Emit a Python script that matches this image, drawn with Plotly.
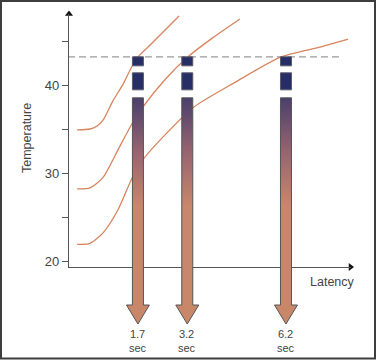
import plotly.graph_objects as go

# ---------------- data ----------------
curve_top_t = [-0.15, 0.24, 0.46, 0.64, 0.94, 1.25, 1.49, 1.73, 2.07, 2.95]
curve_top_T = [34.9, 35.0, 35.35, 36.0, 38.2, 40.1, 41.9, 43.3, 44.55, 47.85]

curve_mid_t = [-0.15, 0.24, 0.64, 1.09, 1.52, 1.85, 2.52, 3.22, 3.95, 4.80]
curve_mid_T = [28.2, 28.3, 29.5, 32.6, 35.6, 37.5, 40.6, 43.2, 45.3, 47.5]

curve_bot_t = [-0.15, 0.24, 0.64, 1.09, 1.52, 1.85, 2.67, 3.40, 4.65, 6.05, 7.23, 8.09]
curve_bot_T = [21.9, 22.0, 23.2, 25.8, 29.4, 31.5, 34.9, 37.5, 40.3, 43.2, 44.3, 45.2]

threshold_T = 43.2
latencies = [1.7, 3.2, 6.2]
latency_labels = ["1.7<br>sec", "3.2<br>sec", "6.2<br>sec"]
y_tick_vals = [20, 25, 30, 35, 40, 45]
y_tick_text = ["20", "", "30", "", "40", ""]

# ---------------- layout geometry (pixels) ----------------
W, H = 377, 360
PX_PER_SEC = 32.9
X0_PX = 82.0          # pixel of t = 0
PX_PER_DEG = 8.8
Y40_PX = 85.0         # pixel of T = 40


def t_of(px):
    return (px - X0_PX) / PX_PER_SEC


def T_of(py):
    return 40 + (Y40_PX - py) / PX_PER_DEG


thr_px = Y40_PX - (threshold_T - 40) * PX_PER_DEG

AX_LEFT, AX_RIGHT = 69, 350.5
AX_BOTTOM, AX_TOP = 267, 14

curve_color = "#d8845f"
text_color = "#444444"
axis_color = "#555555"
FONT = "Liberation Sans, Arial, sans-serif"

fig = go.Figure()

# dashed threshold line
fig.add_trace(go.Scatter(
    x=[t_of(68), t_of(340)], y=[threshold_T, threshold_T],
    mode="lines", line=dict(color="#9a9a9a", width=1.4, dash="7px,4px"),
    hoverinfo="skip", showlegend=False, xaxis="x", yaxis="y"))

for tt, TT in [(curve_top_t, curve_top_T), (curve_mid_t, curve_mid_T), (curve_bot_t, curve_bot_T)]:
    fig.add_trace(go.Scatter(
        x=tt, y=TT, mode="lines",
        line=dict(color=curve_color, width=1.3, shape="spline", smoothing=0.7),
        hoverinfo="skip", showlegend=False, xaxis="x", yaxis="y"))

# axis arrowheads
fig.add_trace(go.Scatter(
    x=[t_of(AX_LEFT)], y=[T_of(AX_TOP)], mode="markers",
    marker=dict(symbol="triangle-up", size=7, color="#111111"),
    cliponaxis=False, hoverinfo="skip", showlegend=False, xaxis="x", yaxis="y"))
fig.add_trace(go.Scatter(
    x=[t_of(AX_RIGHT)], y=[T_of(AX_BOTTOM)], mode="markers",
    marker=dict(symbol="triangle-right", size=7, color="#111111"),
    cliponaxis=False, hoverinfo="skip", showlegend=False, xaxis="x", yaxis="y"))

# arrows (on full-height axis y2)
hw = 5.5 / PX_PER_SEC
hh = 11.5 / PX_PER_SEC
blk1 = (thr_px, thr_px + 9)
blk2 = (thr_px + 16, thr_px + 33)
shaft_top_px = thr_px + 41
shaft_bot_px = 305
tip_px = 324

for L, lab in zip(latencies, latency_labels):
    bx, by = [], []
    for (p0, p1) in (blk1, blk2):
        bx += [L - hw, L + hw, L + hw, L - hw, L - hw, None]
        by += [T_of(p0), T_of(p0), T_of(p1), T_of(p1), T_of(p0), None]
    fig.add_trace(go.Scatter(
        x=bx, y=by, mode="lines", fill="toself", fillcolor="#272d65",
        line=dict(color="#5a5a6a", width=1),
        hoverinfo="skip", showlegend=False, xaxis="x", yaxis="y2"))

    ax_ = [L - hw, L + hw, L + hw, L + hh, L, L - hh, L - hw, L - hw]
    ay_ = [T_of(shaft_top_px), T_of(shaft_top_px), T_of(shaft_bot_px), T_of(shaft_bot_px),
           T_of(tip_px), T_of(shaft_bot_px), T_of(shaft_bot_px), T_of(shaft_top_px)]
    fig.add_trace(go.Scatter(
        x=ax_, y=ay_, mode="lines", fill="toself",
        fillgradient=dict(type="vertical",
                          start=T_of(shaft_bot_px), stop=T_of(shaft_top_px),
                          colorscale=[[0, "#c9876a"], [0.48, "#c8866a"], [0.74, "#976470"], [1, "#4a3f6c"]]),
        line=dict(color="#555555", width=1),
        hoverinfo="skip", showlegend=False, xaxis="x", yaxis="y2"))

    fig.add_annotation(x=L, y=T_of(tip_px), xref="x", yref="y2", text=lab,
                       showarrow=False, yanchor="top", xanchor="center", yshift=-2,
                       font=dict(family=FONT, size=11, color=text_color))

fig.add_annotation(x=27 / W, y=1 - 138 / H, xref="paper", yref="paper", text="Temperature",
                   showarrow=False, textangle=-90, xanchor="center", yanchor="middle",
                   font=dict(family=FONT, size=12.5, color=text_color))
fig.add_annotation(x=332 / W, y=1 - 282 / H, xref="paper", yref="paper", text="Latency",
                   showarrow=False, xanchor="center", yanchor="middle",
                   font=dict(family=FONT, size=12.5, color=text_color))

# border
fig.add_shape(type="rect", xref="paper", yref="paper",
              x0=1 / W, x1=375 / W, y0=1 - 358.5 / H, y1=1 - 1 / H,
              line=dict(color="#3d3d3d", width=2), fillcolor="rgba(0,0,0,0)", layer="below")

fig.update_layout(
    width=W, height=H, margin=dict(l=0, r=0, t=0, b=0),
    paper_bgcolor="white", plot_bgcolor="rgba(0,0,0,0)",
    template="none", showlegend=False,
    xaxis=dict(domain=[AX_LEFT / W, AX_RIGHT / W], range=[t_of(AX_LEFT), t_of(AX_RIGHT)],
               showline=True, linecolor=axis_color, linewidth=1.2, showgrid=False,
               zeroline=False, showticklabels=False, ticks="", automargin=False,
               anchor="y", fixedrange=True),
    yaxis=dict(domain=[1 - AX_BOTTOM / H, 1 - AX_TOP / H], range=[T_of(AX_BOTTOM), T_of(AX_TOP)],
               showline=True, linecolor=axis_color, linewidth=1.2, showgrid=False,
               zeroline=False, tickvals=y_tick_vals, ticktext=y_tick_text,
               ticks="outside", ticklen=6, tickcolor=axis_color, tickwidth=1.2,
               tickfont=dict(family=FONT, size=13, color=text_color),
               automargin=False, anchor="x", fixedrange=True),
    yaxis2=dict(domain=[0, 1], range=[T_of(H), T_of(0)], visible=False,
                anchor="x", fixedrange=True, automargin=False),
)

fig.write_html("out.html", config={"displayModeBar": False},
               post_script="document.body.style.margin='0px';")
